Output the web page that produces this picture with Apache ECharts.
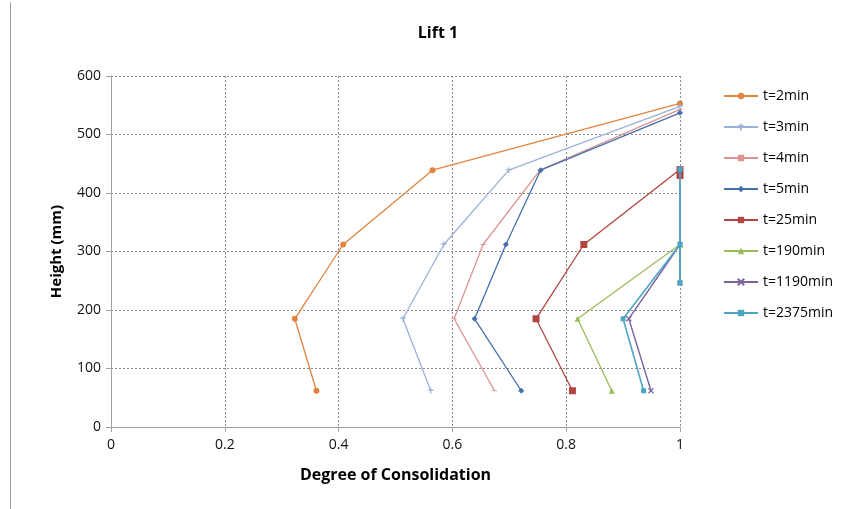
<!DOCTYPE html>
<html>
<head>
<meta charset="utf-8">
<script src="https://cdn.jsdelivr.net/npm/echarts@6/dist/echarts.min.js"></script>
<style>
  html, body { margin: 0; padding: 0; background: #fff; }
  #chart { width: 849px; height: 509px; }
</style>
</head>
<body>
<div id="chart"></div>
<script>
// Degree of consolidation profiles through lift 1 at several elapsed times
const seriesNames = ['t=2min', 't=3min', 't=4min', 't=5min', 't=25min', 't=190min', 't=1190min', 't=2375min'];

// [degree of consolidation, height (mm)] per time step
const t2min    = [[0.361, 62], [0.323, 185], [0.408, 312], [0.565, 439], [1.0, 553]];
const t3min    = [[0.562, 62], [0.513, 185], [0.585, 312], [0.699, 439], [1.0, 548]];
const t4min    = [[0.674, 62], [0.603, 185], [0.654, 312], [0.754, 439], [1.0, 543]];
const t5min    = [[0.721, 62], [0.639, 185], [0.694, 312], [0.755, 439], [1.0, 537]];
const t25min   = [[0.811, 62], [0.747, 185], [0.831, 312], [1.0, 440], [1.0, 430]];
const t190min  = [[0.880, 62], [0.820, 185], [1.0, 312], [1.0, 251]];
const t1190min = [[0.949, 62], [0.910, 185], [1.0, 312], [1.0, 440], [1.0, 246]];
const t2375min = [[0.936, 62], [0.900, 185], [1.0, 312], [1.0, 441], [1.0, 246]];

const xTicks = [0, 0.2, 0.4, 0.6, 0.8, 1];
const yTicks = [0, 100, 200, 300, 400, 500, 600];

const seriesData = [t2min, t3min, t4min, t5min, t25min, t190min, t1190min, t2375min];
const colors  = ['#E2833F', '#9AB2D8', '#DC9492', '#4570AC', '#B04542', '#9BBB59', '#7D62A0', '#4BA6C2'];
const symbols = ['circle', 'path://M0,4H10M5,0V10', 'path://M0,0H10V2H0Z', 'diamond', 'rect', 'triangle',
                 'path://M0,0L10,10M10,0L0,10', 'rect'];
const sizes   = [6, 6, 5, 6, 7, 6, 5, 5];
const widths  = [1.3, 1.3, 1.3, 1.3, 1.3, 1.3, 1.4, 1.6];

const FONT = 'Open Sans';
const chart = echarts.init(document.getElementById('chart'), null, { renderer: 'canvas' });

chart.setOption({
  animation: false,
  color: colors,
  textStyle: { fontFamily: FONT },
  title: {
    text: 'Lift 1',
    left: 433, top: 20, textAlign: 'center',
    textStyle: { fontFamily: FONT, fontSize: 16, fontWeight: 'bold', color: '#000' }
  },
  legend: {
    orient: 'vertical',
    left: 718, top: 84,
    itemWidth: 34, itemHeight: 8, itemGap: 17,
    textStyle: { fontFamily: FONT, fontSize: 14, color: '#000' },
    data: seriesNames
  },
  grid: { left: 111, top: 76, width: 569, height: 351, containLabel: false },
  xAxis: {
    type: 'value', min: 0, max: 1, interval: 0.2,
    name: 'Degree of Consolidation', nameLocation: 'middle', nameGap: 40,
    nameTextStyle: { fontFamily: FONT, fontSize: 16, fontWeight: 'bold', color: '#000' },
    axisLine: { show: true, onZero: false, lineStyle: { color: '#A0A0A0', width: 1 } },
    axisTick: { show: true, inside: false, length: 5, lineStyle: { color: '#A0A0A0' } },
    axisLabel: {
      fontFamily: FONT, fontSize: 14, color: '#111', margin: 11,
      formatter: v => xTicks.includes(Math.round(v * 10) / 10) ? String(Math.round(v * 10) / 10) : ''
    },
    splitLine: { show: true, lineStyle: { color: '#8C8C8C', type: [2, 2], width: 1 } }
  },
  yAxis: {
    type: 'value', min: 0, max: 600, interval: 100,
    name: 'Height (mm)', nameLocation: 'middle', nameGap: 47, nameRotate: 90,
    nameTextStyle: { fontFamily: FONT, fontSize: 15, fontWeight: 'bold', color: '#000' },
    axisLine: { show: true, onZero: false, lineStyle: { color: '#A0A0A0', width: 1 } },
    axisTick: { show: true, inside: false, length: 5, lineStyle: { color: '#A0A0A0' } },
    axisLabel: {
      fontFamily: FONT, fontSize: 14, color: '#111', margin: 10,
      formatter: v => yTicks.includes(v) ? String(v) : ''
    },
    splitLine: { show: true, lineStyle: { color: '#8C8C8C', type: [2, 2], width: 1 } }
  },
  graphic: [
    { type: 'line', left: 8, top: 0, shape: { x1: 0, y1: 0, x2: 0, y2: 509 },
      style: { stroke: '#9A9A9A', lineWidth: 1 }, silent: true }
  ],
  series: seriesData.map((d, i) => ({
    name: seriesNames[i],
    type: 'line',
    data: d,
    symbol: symbols[i],
    symbolSize: sizes[i],
    symbolKeepAspect: true,
    showAllSymbol: true,
    lineStyle: { width: widths[i], color: colors[i] },
    itemStyle: { color: colors[i], borderColor: colors[i], borderWidth: (i === 1 || i === 6) ? 1.2 : 0 },
    emphasis: { disabled: true },
    z: 2 + i
  }))
});
</script>
</body>
</html>
